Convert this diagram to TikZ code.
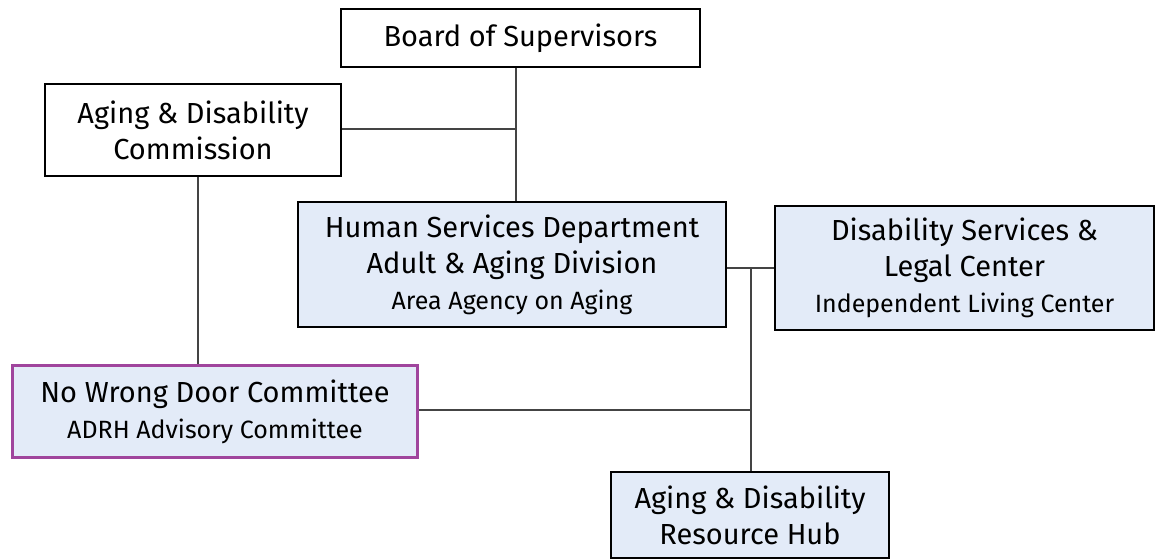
\documentclass[tikz,border=0pt]{standalone}
\usepackage{fontspec}
\setmainfont{Fira Sans}
\definecolor{boxblue}{HTML}{E3EBF8}
\definecolor{nwdpurple}{HTML}{A0459D}
\definecolor{linegray}{HTML}{444444}
\begin{document}
\begin{tikzpicture}[x=1pt,y=-1pt,
  orgbox/.style={draw=black,line width=1.5pt,rectangle,inner sep=0pt,align=center,
    font=\fontsize{29}{36}\selectfont},
  bluebox/.style={orgbox,fill=boxblue},
  conn/.style={draw=linegray,line width=1.2pt}]
\useasboundingbox (0,0) rectangle (1156,559);
\newcommand{\smalltxt}{\fontsize{25}{36}\selectfont}
\node[orgbox,minimum width=359pt,minimum height=58pt] (board) at (520.5,38) {Board of Supervisors};
\node[orgbox,minimum width=296pt,minimum height=92pt] (comm) at (193,130) {Aging \& Disability\\Commission};
\node[bluebox,minimum width=428pt,minimum height=125pt] (hs) at (512,264.5)
  {Human Services Department\\Adult \& Aging Division\\{\smalltxt Area Agency on Aging}};
\node[bluebox,minimum width=379pt,minimum height=124pt] (ds) at (964.5,268)
  {Disability Services \&\\Legal Center\\{\smalltxt Independent Living Center}};
\node[bluebox,draw=nwdpurple,line width=3pt,minimum width=405pt,minimum height=92pt] (nwd) at (215,411.5)
  {No Wrong Door Committee\\{\smalltxt ADRH Advisory Committee}};
\node[bluebox,minimum width=278pt,minimum height=86pt] (rh) at (750,515)
  {Aging \& Disability\\Resource Hub};
\coordinate (j1) at (516,129);
\coordinate (jc) at (198,300);
\coordinate (j2) at (751,268);
\coordinate (j3) at (751,410);
\draw[conn] (board.south -| j1) -- (hs.north -| j1);
\draw[conn] (comm.east |- j1) -- (j1);
\draw[conn] (comm.south -| jc) -- (nwd.north -| jc);
\draw[conn] (hs.east |- j2) -- (ds.west |- j2);
\draw[conn] (j2) -- (rh.north -| j2);
\draw[conn] (nwd.east |- j3) -- (j3);
\end{tikzpicture}
\end{document}
